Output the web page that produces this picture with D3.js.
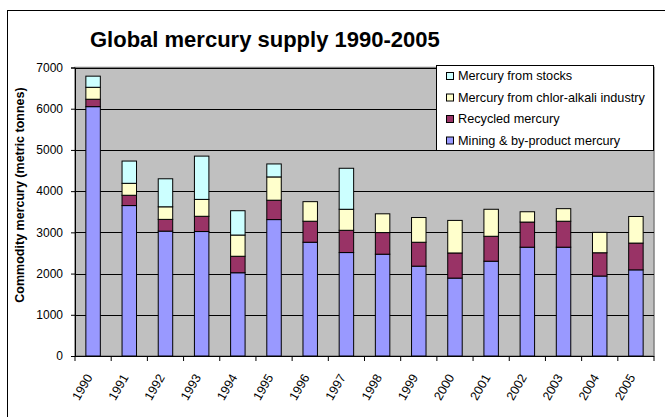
<!DOCTYPE html>
<html><head><meta charset="utf-8">
<script src="https://cdn.jsdelivr.net/npm/d3@7/dist/d3.min.js"></script>
<style>body{margin:0;background:#fff;}svg{display:block;font-family:Arial,"Liberation Sans",sans-serif;}</style>
</head><body>
<svg id="c" width="665" height="417"></svg>
<script>
const years = ["1990","1991","1992","1993","1994","1995","1996","1997","1998","1999","2000","2001","2002","2003","2004","2005"];
const mining   = [6050,3650,3030,3020,2020,3310,2760,2510,2470,2180,1890,2300,2640,2640,1940,2090];
const recycled = [180,250,285,370,400,470,510,540,525,580,610,605,610,630,565,650];
const chlor    = [290,290,305,410,515,565,475,510,455,600,790,655,250,305,495,645];
const stocks   = [270,540,680,1050,590,315,0,995,0,0,0,0,0,0,0,0];
const seriesNames = ["Mining & by-product mercury","Recycled mercury","Mercury from chlor-alkali industry","Mercury from stocks"];
const seriesColors = ["#9999FF","#993366","#FFFFCC","#CCFFFF"];
const yTicks = [0,1000,2000,3000,4000,5000,6000,7000];

const svg = d3.select("#c");
const L = 75, R = 654, T = 67.5, B = 356;

// outer chart border
svg.append("rect").attr("x",7.5).attr("y",10.5).attr("width",700).attr("height",450)
  .attr("fill","#fff").attr("stroke","#000").attr("stroke-width",1);

const x = d3.scaleBand().domain(years).range([L,R]).paddingInner(0.6).paddingOuter(0.3);
const xb = d3.scaleBand().domain(years).range([L,R]);
const y = d3.scaleLinear().domain([0,7000]).range([B,T]);

// plot area
svg.append("rect").attr("x",L).attr("y",T).attr("width",R-L).attr("height",B-T)
  .attr("fill","#C0C0C0").attr("stroke","#808080").attr("stroke-width",1.5);

// gridlines
svg.append("g").selectAll("line").data(yTicks.filter(d=>d>0)).join("line")
  .attr("x1",L).attr("x2",R).attr("y1",d=>Math.round(y(d))+0.5).attr("y2",d=>Math.round(y(d))+0.5)
  .attr("stroke","#000").attr("stroke-width",1);

// stacked data
const table = years.map((yr,i)=>({year:yr, s0:mining[i], s1:recycled[i], s2:chlor[i], s3:stocks[i]}));
const stack = d3.stack().keys(["s0","s1","s2","s3"])(table);

svg.append("g").selectAll("g").data(stack).join("g")
  .attr("fill",(d,i)=>seriesColors[i])
  .selectAll("rect").data(d=>d.filter(p=>p[1]-p[0]>0)).join("rect")
  .attr("x",d=>x(d.data.year)).attr("width",x.bandwidth())
  .attr("y",d=>y(d[1])).attr("height",d=>y(d[0])-y(d[1]))
  .attr("stroke","#000").attr("stroke-width",1);

// axes
const yAxis = d3.axisLeft(y).tickValues(yTicks).tickSize(4).tickPadding(8).tickFormat(d3.format("d"));
const gy = svg.append("g").attr("transform",`translate(${L},0)`).call(yAxis);
gy.select(".domain").attr("stroke","#000");
gy.selectAll("text").attr("font-size","12px").attr("fill","#000");

const gx = svg.append("g").attr("transform",`translate(0,${B})`);
gx.append("line").attr("x1",L).attr("x2",R).attr("y1",0.5).attr("y2",0.5).attr("stroke","#000");
gx.selectAll("line.t").data(years.concat(["end"])).join("line").attr("class","t")
  .attr("x1",(d,i)=> i<years.length ? xb(d) : R).attr("x2",(d,i)=> i<years.length ? xb(d) : R)
  .attr("y1",0).attr("y2",5).attr("stroke","#000");
gx.selectAll("text").data(years).join("text")
  .attr("transform",d=>`translate(${xb(d)+xb.bandwidth()/2-4},19) rotate(-60)`)
  .attr("text-anchor","end").attr("dy","0.35em").attr("font-size","12.5px").text(d=>d);

// title
svg.append("text").attr("x",90).attr("y",47).attr("font-size","22px").attr("font-weight","bold").text("Global mercury supply 1990-2005");

// y title
svg.append("text").attr("transform","translate(24,195) rotate(-90)").attr("text-anchor","middle")
  .attr("font-size","12.5px").attr("font-weight","bold").text("Commodity mercury (metric tonnes)");

// legend
const lg = svg.append("g");
lg.append("rect").attr("x",436.5).attr("y",65.5).attr("width",217).attr("height",85).attr("fill","#fff").attr("stroke","#000");
const legOrder = [3,2,1,0];
const legY = [76,97.5,119,140.5];
legOrder.forEach((si,k)=>{
  lg.append("rect").attr("x",446.5).attr("y",legY[k]-3.5).attr("width",7).attr("height",7)
    .attr("fill",seriesColors[si]).attr("stroke","#000");
  lg.append("text").attr("x",458).attr("y",legY[k]).attr("dy","0.35em").attr("font-size","12.7px").text(seriesNames[si]);
});
</script>
</body></html>
